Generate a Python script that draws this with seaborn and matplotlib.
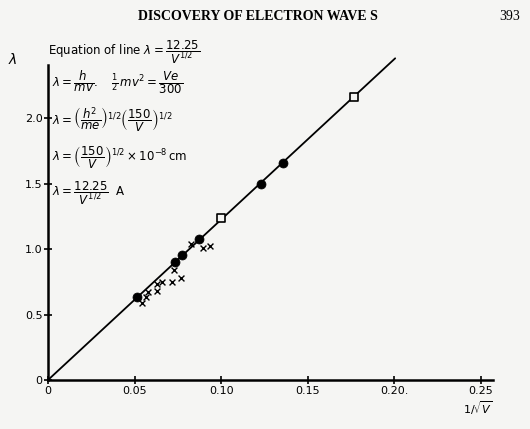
import numpy as np
import pandas as pd
from matplotlib import pyplot as plt
import seaborn as sns

# data
dot_x = [0.0512, 0.0733, 0.0773, 0.0874, 0.123, 0.136]
dot_y = [0.636, 0.90, 0.954, 1.08, 1.50, 1.66]

sq_x = [0.100, 0.177]
sq_y = [1.24, 2.16]

cross_x = [0.0545, 0.0564, 0.0575, 0.0628, 0.0628, 0.0657, 0.0719, 0.0767, 0.0725, 0.0826, 0.0893, 0.0938]
cross_y = [0.585, 0.636, 0.67, 0.68, 0.73, 0.75, 0.745, 0.78, 0.84, 1.04, 1.01, 1.025]

line_x = [0.0, 0.2005]
line_y = [0.0, 2.456]

xticks = [0, 0.05, 0.10, 0.15, 0.20, 0.25]
xtick_labels = ['0', '0.05', '0.10', '0.15', '0.20.', '0.25']
yticks = [0, 0.5, 1.0, 1.5, 2.0]
ytick_labels = ['0', '0.5', '1.0', '1.5', '2.0']

sns.set_theme(style='ticks')
plt.rcParams['font.family'] = ['DejaVu Sans']
plt.rcParams['mathtext.fontset'] = 'dejavusans'
plt.rcParams['text.color'] = 'black'

bg = '#f5f5f3'
fig = plt.figure(figsize=(5.3, 4.29), dpi=100, facecolor=bg)
ax = fig.add_axes([48 / 530, 1 - 380 / 429, 445 / 530, 315 / 429])
ax.set_facecolor(bg)

sns.lineplot(x=line_x, y=line_y, color='black', linewidth=1.3, ax=ax, clip_on=False)
sns.scatterplot(x=dot_x, y=dot_y, marker='o', color='black', s=42, edgecolor='black', ax=ax, zorder=3)
sns.scatterplot(x=sq_x, y=sq_y, marker='s', s=30, facecolor=bg, edgecolor='black', linewidth=1.2, ax=ax, zorder=3)
sns.scatterplot(x=cross_x, y=cross_y, marker='x', color='black', s=18, linewidth=1.0, ax=ax, zorder=3)

ax.set_xlim(0, 0.257)
ax.set_ylim(0, 2.405)
ax.set_xticks(xticks)
ax.set_xticklabels(xtick_labels)
ax.set_yticks(yticks)
ax.set_yticklabels(ytick_labels)
ax.tick_params(direction='inout', length=6, width=1.2, labelsize=8, colors='black', pad=1)
sns.despine(ax=ax)
for s in ['left', 'bottom']:
    ax.spines[s].set_linewidth(1.8)
    ax.spines[s].set_color('black')

# page header
fig.text(258 / 530, 1 - 16 / 429, 'DISCOVERY OF ELECTRON WAVE S', family='Liberation Serif',
         fontsize=10, fontweight='bold', ha='center', va='center')
fig.text(510 / 530, 1 - 17 / 429, '393', family='Liberation Serif', fontsize=10, ha='center', va='center')

# axis labels
fig.text(13 / 530, 1 - 60 / 429, r'$\lambda$', fontsize=10, ha='center', va='center')
fig.text(478 / 530, 1 - 408 / 429, r'$1/\sqrt{V}$', fontsize=8, ha='center', va='center')

# equations
eq_kw = dict(fontsize=8.5, va='center')
fig.text(48 / 530, 1 - 52 / 429, r'Equation of line $\lambda = \dfrac{12.25}{V^{1/2}}$', **eq_kw)
fig.text(52 / 530, 1 - 83 / 429, r'$\lambda = \dfrac{h}{mv}.\ \ \ \frac{1}{2}\,mv^2 = \dfrac{Ve}{300}$', **eq_kw)
fig.text(52 / 530, 1 - 120 / 429, r'$\lambda = \left(\dfrac{h^2}{me}\right)^{1/2} \left(\dfrac{150}{V}\right)^{1/2}$', **eq_kw)
fig.text(52 / 530, 1 - 157 / 429, r'$\lambda = \left(\dfrac{150}{V}\right)^{1/2} \times 10^{-8}\,\mathrm{cm}$', **eq_kw)
fig.text(52 / 530, 1 - 193 / 429, r'$\lambda = \dfrac{12.25}{V^{1/2}}$  A', **eq_kw)

fig.savefig('out.png', dpi=100, facecolor=bg)
